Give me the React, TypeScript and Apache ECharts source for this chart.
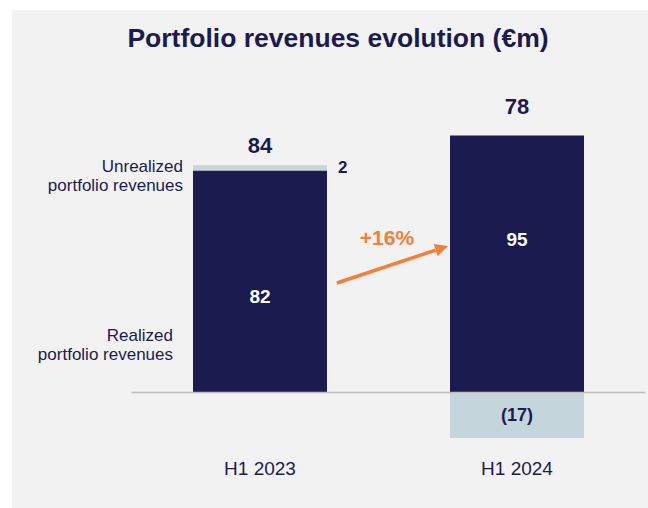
import React, { useEffect, useRef } from "react";
import * as echarts from "echarts";

const categories = ["H1 2023", "H1 2024"];
const realized = [82, 95];
const unrealized = [2, -17];
const totals = [84, 78];
const growthLabel = "+16%";
const titleText = "Portfolio revenues evolution (€m)";

const NAVY = "#1b1b50";
const LIGHT = "#c5d5dc";
const ORANGE = "#f47f3c";
const BG = "#f2f2f2";
const FONT = "Liberation Sans, Arial, sans-serif";

export default function App() {
  const ref = useRef<HTMLDivElement>(null);
  useEffect(() => {
    if (!ref.current) return;
    const chart = echarts.init(ref.current, undefined, { renderer: "svg" });
    const realizedOffsets = [[0, 15], [0, -24]];
    const totalDistances = [9, 18];
    const stackTops = realized.map((r, i) => r + Math.max(unrealized[i], 0));

    // arrow geometry (annotation)
    const sx = 337, sy = 283, tx = 448, ty = 246;
    const len = Math.hypot(tx - sx, ty - sy);
    const dx = (tx - sx) / len, dy = (ty - sy) / len;
    const hl = 13, hw = 6.5;
    const bx = tx - hl * dx, by = ty - hl * dy;
    const px = -dy, py = dx;

    chart.setOption({
      animation: false,
      textStyle: { fontFamily: FONT },
      grid: {
        left: 131.5,
        right: 2.5,
        top: 122,
        bottom: 62,
        containLabel: false,
        outerBoundsMode: "none",
      },
      xAxis: {
        type: "category",
        data: categories,
        axisLine: { show: false },
        axisTick: { show: false },
        axisLabel: { margin: 13, color: NAVY, fontSize: 19, fontFamily: FONT },
      },
      yAxis: {
        type: "value",
        min: -20,
        max: 100,
        show: false,
        splitLine: { show: false },
      },
      series: [
        {
          name: "Realized portfolio revenues",
          type: "bar",
          stack: "rev",
          barWidth: 134,
          itemStyle: { color: NAVY },
          data: realized.map((v, i) => ({
            value: v,
            label: { offset: realizedOffsets[i] },
          })),
          label: {
            show: true,
            position: "inside",
            color: "#ffffff",
            fontWeight: "bold",
            fontSize: 19,
            fontFamily: FONT,
          },
          markLine: {
            silent: true,
            symbol: "none",
            z: 10,
            label: { show: false },
            lineStyle: { color: "#bfbfbf", width: 1.3, type: "solid" },
            data: [{ yAxis: 0 }],
          },
        },
        {
          name: "Unrealized portfolio revenues",
          type: "bar",
          stack: "rev",
          barWidth: 134,
          itemStyle: { color: LIGHT },
          data: unrealized.map((v) => ({
            value: v,
            label:
              v >= 0
                ? { position: "right", distance: 11, fontSize: 17 }
                : { position: "inside", fontSize: 18 },
          })),
          label: {
            show: true,
            color: NAVY,
            fontWeight: "bold",
            fontFamily: FONT,
            formatter: (p: any) => (p.value < 0 ? `(${-p.value})` : `${p.value}`),
          },
        },
        {
          name: "Total",
          type: "scatter",
          symbolSize: 0,
          silent: true,
          itemStyle: { opacity: 1 },
          data: stackTops.map((t, i) => ({
            value: [i, t],
            label: { distance: totalDistances[i] },
          })),
          label: {
            show: true,
            position: "top",
            color: NAVY,
            opacity: 1,
            fontWeight: "bold",
            fontSize: 22,
            fontFamily: FONT,
            formatter: (p: any) => `${totals[p.dataIndex]}`,
          },
        },
      ],
      graphic: [
        {
          type: "rect",
          z: -10,
          silent: true,
          shape: { x: 12, y: 10, width: 648, height: 510 },
          style: { fill: BG },
        },
        {
          type: "text",
          x: 338,
          y: 38,
          style: {
            text: titleText,
            fill: NAVY,
            font: `bold 26.5px ${FONT}`,
            textAlign: "center",
            textVerticalAlign: "middle",
          },
        },
        {
          type: "text",
          x: 183,
          y: 176,
          style: {
            text: "Unrealized\nportfolio revenues",
            fill: NAVY,
            font: `17px ${FONT}`,
            lineHeight: 19.5,
            textAlign: "right",
            textVerticalAlign: "middle",
          },
        },
        {
          type: "text",
          x: 173,
          y: 345,
          style: {
            text: "Realized\nportfolio revenues",
            fill: NAVY,
            font: `17px ${FONT}`,
            lineHeight: 19.5,
            textAlign: "right",
            textVerticalAlign: "middle",
          },
        },
        {
          type: "line",
          shape: { x1: sx, y1: sy, x2: bx, y2: by },
          style: { stroke: ORANGE, lineWidth: 3.5 },
        },
        {
          type: "polygon",
          shape: {
            points: [
              [tx, ty],
              [bx + hw * px, by + hw * py],
              [bx - hw * px, by - hw * py],
            ],
          },
          style: { fill: ORANGE },
        },
        {
          type: "text",
          x: 387,
          y: 237,
          style: {
            text: growthLabel,
            fill: ORANGE,
            font: `bold 21px ${FONT}`,
            textAlign: "center",
            textVerticalAlign: "middle",
          },
        },
      ],
    });
    return () => chart.dispose();
  }, []);
  return (
    <div
      ref={ref}
      style={{ position: "absolute", left: 0, top: 0, width: 648, height: 508, background: "#ffffff" }}
    />
  );
}
